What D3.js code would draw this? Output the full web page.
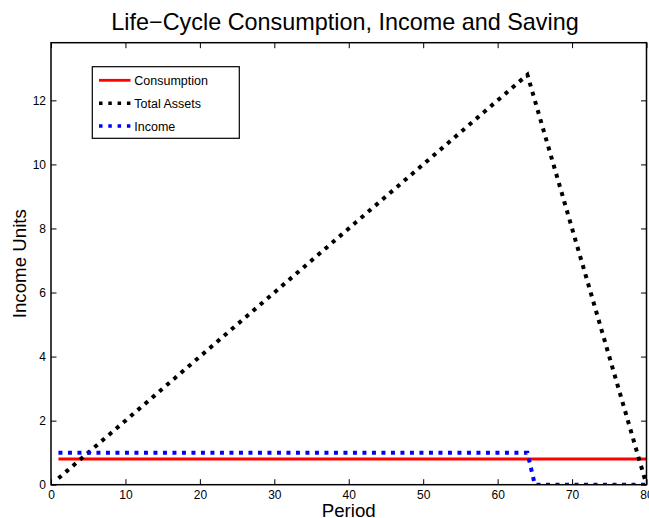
<!DOCTYPE html>
<html>
<head>
<meta charset="utf-8">
<script src="https://cdn.jsdelivr.net/npm/d3@7"></script>
<style>
  html, body { margin: 0; padding: 0; background: #fff; }
  svg { display: block; font-family: "Liberation Sans", Arial, Helvetica, sans-serif; }
</style>
</head>
<body>
<svg id="chart" width="649" height="518"></svg>
<script>
// ---- Data ----
const periods = [1,2,3,4,5,6,7,8,9,10,11,12,13,14,15,16,17,18,19,20,
  21,22,23,24,25,26,27,28,29,30,31,32,33,34,35,36,37,38,39,40,
  41,42,43,44,45,46,47,48,49,50,51,52,53,54,55,56,57,58,59,60,
  61,62,63,64,65,66,67,68,69,70,71,72,73,74,75,76,77,78,79,80];
const consumption = [0.8,0.8,0.8,0.8,0.8,0.8,0.8,0.8,0.8,0.8,0.8,0.8,0.8,0.8,0.8,0.8,0.8,0.8,0.8,0.8,
  0.8,0.8,0.8,0.8,0.8,0.8,0.8,0.8,0.8,0.8,0.8,0.8,0.8,0.8,0.8,0.8,0.8,0.8,0.8,0.8,
  0.8,0.8,0.8,0.8,0.8,0.8,0.8,0.8,0.8,0.8,0.8,0.8,0.8,0.8,0.8,0.8,0.8,0.8,0.8,0.8,
  0.8,0.8,0.8,0.8,0.8,0.8,0.8,0.8,0.8,0.8,0.8,0.8,0.8,0.8,0.8,0.8,0.8,0.8,0.8,0.8];
const totalAssets = [0.2,0.4,0.6,0.8,1.0,1.2,1.4,1.6,1.8,2.0,2.2,2.4,2.6,2.8,3.0,3.2,3.4,3.6,3.8,4.0,
  4.2,4.4,4.6,4.8,5.0,5.2,5.4,5.6,5.8,6.0,6.2,6.4,6.6,6.8,7.0,7.2,7.4,7.6,7.8,8.0,
  8.2,8.4,8.6,8.8,9.0,9.2,9.4,9.6,9.8,10.0,10.2,10.4,10.6,10.8,11.0,11.2,11.4,11.6,11.8,12.0,
  12.2,12.4,12.6,12.8,12.0,11.2,10.4,9.6,8.8,8.0,7.2,6.4,5.6,4.8,4.0,3.2,2.4,1.6,0.8,0.0];
const income = [1,1,1,1,1,1,1,1,1,1,1,1,1,1,1,1,1,1,1,1,
  1,1,1,1,1,1,1,1,1,1,1,1,1,1,1,1,1,1,1,1,
  1,1,1,1,1,1,1,1,1,1,1,1,1,1,1,1,1,1,1,1,
  1,1,1,1,0,0,0,0,0,0,0,0,0,0,0,0,0,0,0,0];
const xTicks = [0,10,20,30,40,50,60,70,80];
const yTicks = [0,2,4,6,8,10,12];
const seriesNames = ["Consumption", "Total Assets", "Income"];
const titleText = "Life\u2212Cycle Consumption, Income and Saving";
const xLabel = "Period";
const yLabel = "Income Units";

// ---- Layout ----
const mLeft = 51, mRight = 646.5, mTop = 42.7, mBottom = 484.7;
const svg = d3.select("#chart");
const x = d3.scaleLinear().domain([0, 80]).range([mLeft, mRight]);
const y = d3.scaleLinear().domain([0, 13.8]).range([mBottom, mTop]);

const series = [
  {name: seriesNames[0], values: consumption, color: "#ff0000", dash: null, width: 3},
  {name: seriesNames[1], values: totalAssets, color: "#000000", dash: "4,5.5", width: 4},
  {name: seriesNames[2], values: income, color: "#0000ff", dash: "4,5.5", width: 4}
];

svg.append("defs").append("clipPath").attr("id", "clip")
  .append("rect").attr("x", mLeft).attr("y", mTop)
  .attr("width", mRight - mLeft).attr("height", mBottom - mTop);

const line = d3.line().x((d, i) => x(periods[i])).y(d => y(d));
const plot = svg.append("g").attr("clip-path", "url(#clip)");
series.forEach(s => {
  plot.append("path")
    .datum(s.values)
    .attr("d", line)
    .attr("fill", "none")
    .attr("stroke", s.color)
    .attr("stroke-width", s.width)
    .attr("stroke-dasharray", s.dash)
    .attr("stroke-linecap", "butt");
});

// ---- Axes (MATLAB box style, inward ticks) ----
const tickLen = 5.5;
const axBottom = svg.append("g").attr("transform", `translate(0,${mBottom})`)
  .call(d3.axisBottom(x).tickValues(xTicks).tickSize(-tickLen).tickPadding(6).tickFormat(d3.format("d")));
const axTop = svg.append("g").attr("transform", `translate(0,${mTop})`)
  .call(d3.axisTop(x).tickValues(xTicks).tickSize(-tickLen).tickFormat(""));
const axLeft = svg.append("g").attr("transform", `translate(${mLeft},0)`)
  .call(d3.axisLeft(y).tickValues(yTicks).tickSize(-tickLen).tickPadding(5).tickFormat(d3.format("d")));
const axRight = svg.append("g").attr("transform", `translate(${mRight},0)`)
  .call(d3.axisRight(y).tickValues(yTicks).tickSize(-tickLen).tickFormat(""));
[axBottom, axTop, axLeft, axRight].forEach(a => {
  a.select(".domain").remove();
  a.selectAll(".tick line").attr("stroke", "#000").attr("stroke-width", 1);
  a.selectAll("text").attr("fill", "#000").attr("font-size", 12)
    .attr("font-family", "'Liberation Sans', Arial, sans-serif");
});
svg.append("rect").attr("x", mLeft).attr("y", mTop)
  .attr("width", mRight - mLeft).attr("height", mBottom - mTop)
  .attr("fill", "none").attr("stroke", "#000").attr("stroke-width", 1.5);

// ---- Labels ----
svg.append("text").attr("x", 345).attr("y", 29.5)
  .attr("text-anchor", "middle").attr("font-size", 23.4).attr("fill", "#000")
  .text(titleText);
svg.append("text").attr("x", (mLeft + mRight) / 2).attr("y", 516.5)
  .attr("text-anchor", "middle").attr("font-size", 18.7).attr("fill", "#000")
  .text(xLabel);
svg.append("text")
  .attr("transform", `translate(26,${(mTop + mBottom) / 2}) rotate(-90)`)
  .attr("text-anchor", "middle").attr("font-size", 18.7).attr("fill", "#000")
  .text(yLabel);

// ---- Legend ----
const lg = svg.append("g");
lg.append("rect").attr("x", 92.3).attr("y", 66.7).attr("width", 147).attr("height", 71.6)
  .attr("fill", "#fff").attr("stroke", "#000").attr("stroke-width", 1.2);
const rowY = [80.3, 103.3, 126];
series.forEach((s, i) => {
  lg.append("line").attr("x1", 99).attr("x2", 130.5).attr("y1", rowY[i]).attr("y2", rowY[i])
    .attr("stroke", s.color).attr("stroke-width", s.dash ? 3.5 : 2.8)
    .attr("stroke-dasharray", s.dash ? "3.5,5.8" : null);
  lg.append("text").attr("x", 134.3).attr("y", rowY[i]).attr("dy", "0.36em")
    .attr("font-size", 12.5).attr("fill", "#000").text(s.name);
});
</script>
</body>
</html>
